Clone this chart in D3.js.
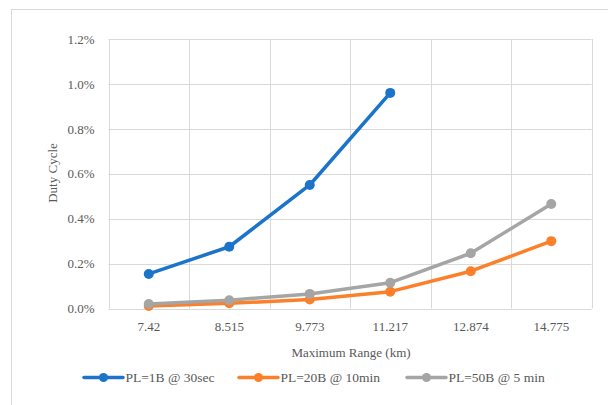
<!DOCTYPE html>
<html>
<head>
<meta charset="utf-8">
<script src="https://cdn.jsdelivr.net/npm/d3@7"></script>
<style>
  html, body { margin: 0; padding: 0; background: #fff; }
  svg { display: block; }
  text { font-family: "Liberation Serif", "DejaVu Serif", serif; fill: #595959; }
</style>
</head>
<body>
<svg id="chart" width="608" height="405"></svg>
<script>
// Maximum range categories (km)
const ranges = ["7.42", "8.515", "9.773", "11.217", "12.874", "14.775"];

// Duty cycle in percent for each payload / reporting interval
const pl1B30sec = [0.154, 0.275, 0.55, 0.96];
const pl20B10min = [0.011, 0.023, 0.040, 0.075, 0.166, 0.300];
const pl50B5min = [0.020, 0.037, 0.065, 0.115, 0.246, 0.465];

const yTicks = [0, 0.2, 0.4, 0.6, 0.8, 1.0, 1.2];

const seriesNames = ["PL=1B @ 30sec", "PL=20B @ 10min", "PL=50B @ 5 min"];
const seriesColors = ["#1b74c9", "#fc7f2a", "#a5a5a5"];
const seriesValues = [pl1B30sec, pl20B10min, pl50B5min];

const svg = d3.select("#chart");
const plot = { left: 108.5, right: 591.5, top: 39, bottom: 308.5 };

// Outer chart frame
svg.append("rect")
  .attr("x", 11.5).attr("y", 9.5)
  .attr("width", 640).attr("height", 440)
  .attr("fill", "none").attr("stroke", "#d9d9d9").attr("stroke-width", 1);

const x = d3.scaleBand().domain(ranges).range([plot.left, plot.right]).paddingInner(0).paddingOuter(0);
const y = d3.scaleLinear().domain([0, 1.2]).range([plot.bottom, plot.top]);

const grid = svg.append("g");
// horizontal gridlines
grid.selectAll("line.h").data(yTicks).join("line")
  .attr("class", "h")
  .attr("x1", plot.left).attr("x2", plot.right)
  .attr("y1", d => Math.round(y(d)) + 0.5).attr("y2", d => Math.round(y(d)) + 0.5)
  .attr("stroke", "#d9d9d9").attr("stroke-width", 1);
// vertical gridlines at category boundaries
const bounds = ranges.map(r => x(r)).concat([plot.right]);
grid.selectAll("line.v").data(bounds).join("line")
  .attr("class", "v")
  .attr("x1", d => Math.round(d) + 0.5).attr("x2", d => Math.round(d) + 0.5)
  .attr("y1", plot.top).attr("y2", plot.bottom)
  .attr("stroke", "#d9d9d9").attr("stroke-width", 1);

// Y axis labels
const yAxis = d3.axisLeft(y).tickValues(yTicks).tickFormat(d => d.toFixed(1) + "%").tickSize(0).tickPadding(14);
const yg = svg.append("g").attr("transform", `translate(${plot.left},0)`).call(yAxis);
yg.select(".domain").remove();
yg.selectAll("text").attr("font-size", 13).attr("font-family", "Liberation Serif").attr("fill", "#595959");

// X axis labels
const xAxis = d3.axisBottom(x).tickSize(0).tickPadding(13);
const xg = svg.append("g").attr("transform", `translate(0,${plot.bottom})`).call(xAxis);
xg.select(".domain").remove();
xg.selectAll("text").attr("font-size", 13).attr("font-family", "Liberation Serif").attr("fill", "#595959");

// Axis titles
svg.append("text")
  .attr("x", 351).attr("y", 357)
  .attr("text-anchor", "middle").attr("font-size", 13)
  .text("Maximum Range (km)");
svg.append("text")
  .attr("transform", "translate(57,173) rotate(-90)")
  .attr("text-anchor", "middle").attr("font-size", 13)
  .text("Duty Cycle");

// Series lines and markers
const cx = (i) => x(ranges[i]) + x.bandwidth() / 2;
const line = d3.line().x((d, i) => cx(i)).y(d => y(d));

seriesValues.forEach((vals, s) => {
  const g = svg.append("g");
  g.append("path")
    .datum(vals)
    .attr("d", line)
    .attr("fill", "none")
    .attr("stroke", seriesColors[s])
    .attr("stroke-width", 3.5)
    .attr("stroke-linejoin", "round")
    .attr("stroke-linecap", "round");
  g.selectAll("circle").data(vals).join("circle")
    .attr("cx", (d, i) => cx(i))
    .attr("cy", d => y(d))
    .attr("r", 5)
    .attr("fill", seriesColors[s]);
});

// Legend
const legendX = [84, 239, 407];
const legend = svg.append("g");
seriesNames.forEach((name, s) => {
  const lg = legend.append("g").attr("transform", `translate(${legendX[s]},377.5)`);
  lg.append("line")
    .attr("x1", 0).attr("x2", 39).attr("y1", 0).attr("y2", 0)
    .attr("stroke", seriesColors[s]).attr("stroke-width", 3.5).attr("stroke-linecap", "round");
  lg.append("circle").attr("cx", 19.5).attr("cy", 0).attr("r", 4.5).attr("fill", seriesColors[s]);
  lg.append("text")
    .attr("x", 41.5).attr("y", 4.5)
    .attr("font-size", 13.5)
    .text(name);
});
</script>
</body>
</html>
